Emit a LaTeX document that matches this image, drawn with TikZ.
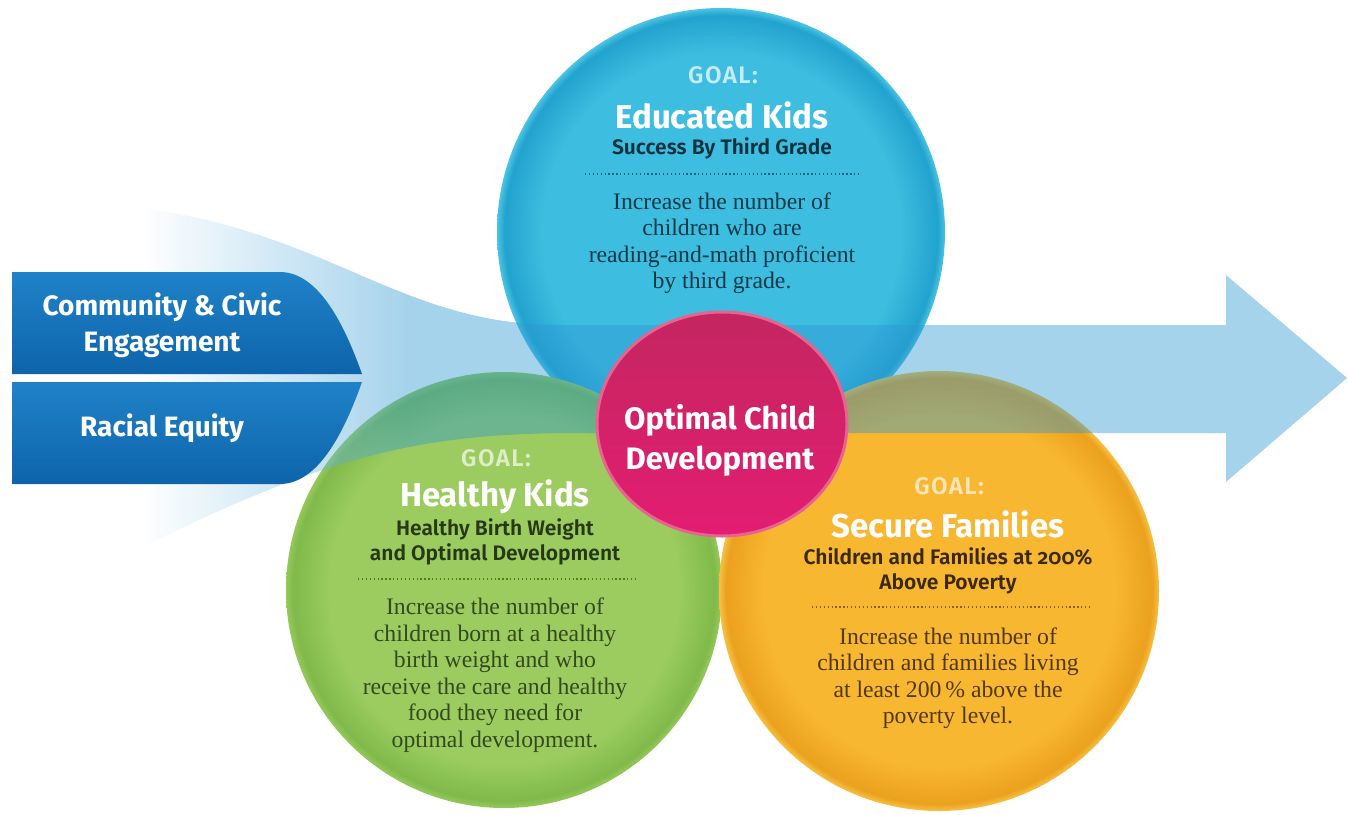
\documentclass[tikz,border=0pt]{standalone}
\usepackage{fontspec}
\setmainfont{Liberation Serif}
\setsansfont{Fira Sans}
\newfontfamily\subfont{Fira Sans SemiBold}[Numbers=OldStyle]
\newfontfamily\tagfont{Fira Sans SemiBold}[LetterSpace=6]
\usepackage{tikz}
\usepackage{xcolor}
\usetikzlibrary{shapes}
\usetikzlibrary{positioning, arrows.meta}

\definecolor{eduin}{HTML}{3DBDDF}
\definecolor{edurim}{HTML}{22A3CF}
\definecolor{eduedge}{HTML}{4CC4E4}
\definecolor{hlthin}{HTML}{9CCC5F}
\definecolor{hlthrim}{HTML}{80BA4B}
\definecolor{hlthedge}{HTML}{95C95A}
\definecolor{famin}{HTML}{F8B731}
\definecolor{famrim}{HTML}{EBA11E}
\definecolor{famedge}{HTML}{F7C043}
\definecolor{bandc}{HTML}{2B96D2}
\definecolor{tabtop}{HTML}{1F82C8}
\definecolor{tabbot}{HTML}{0E64AB}
\definecolor{pinktop}{HTML}{C42660}
\definecolor{pinkbot}{HTML}{E31D72}
\definecolor{pinkrim}{HTML}{E8648F}

\pgfdeclareradialshading{edushade}{\pgfpoint{0bp}{0bp}}{color(0bp)=(eduin); color(20bp)=(eduin); color(24.2bp)=(edurim); color(25bp)=(eduedge); color(50bp)=(eduedge)}
\pgfdeclareradialshading{hlthshade}{\pgfpoint{0bp}{0bp}}{color(0bp)=(hlthin); color(20bp)=(hlthin); color(24.2bp)=(hlthrim); color(25bp)=(hlthedge); color(50bp)=(hlthedge)}
\pgfdeclareradialshading{famshade}{\pgfpoint{0bp}{0bp}}{color(0bp)=(famin); color(20bp)=(famin); color(24.2bp)=(famrim); color(25bp)=(famedge); color(50bp)=(famedge)}
\pgfdeclarehorizontalshading{bandfade}{100bp}{color(0bp)=(white); color(25bp)=(white); color(36bp)=(bandc); color(100bp)=(bandc)}

\begin{document}
\begin{tikzpicture}[x=1pt, y=-1pt,
    goal/.style={circle, minimum size=#1, inner sep=0pt},
    goaltag/.style={font=\tagfont\fontsize{24}{24}\selectfont},
    goaltitle/.style={font=\sffamily\bfseries\fontsize{33}{33}\selectfont, text=white},
    goalsub/.style={font=\subfont\fontsize{21}{25}\selectfont, align=center},
    goalbody/.style={font=\fontsize{23.7}{26.5}\selectfont, align=center},
    dotrule/.style={line width=1.3pt, dash pattern=on 1.3pt off 2.6pt},
    tabtext/.style={font=\sffamily\bfseries\fontsize{28}{36}\selectfont, text=white, align=center}]

\useasboundingbox (0,0) rectangle (1348,814);

% the three goals
\node[goal=448, shading=edushade] (edu) at (721,232) {};
\node[goal=436, shading=hlthshade] (hlth) at (504,590) {};
\node[goal=440, shading=famshade] (fam) at (939,591) {};

% flow band
\shade[shading=bandfade, fill opacity=0.42] (140,208) .. controls (330,232) and (400,325) .. (560,325)
    -- (1226,325) -- (1226,275) -- (1347,378) -- (1226,482) -- (1226,433) -- (580,433)
    .. controls (420,433) and (330,455) .. (140,548) -- cycle;

% educated kids
\node[goaltag, text=eduin!30!white] (edugoal) at (723,75) {GOAL:};
\node[goaltitle] (edutitle) at (722,115) {Educated Kids};
\node[goalsub, text=edurim!30!black] (edusub) at (722,148) {Success By Third Grade};
\coordinate (edul) at (585,174);
\coordinate (edur) at (860,174);
\draw[dotrule, edurim!60!black] (edul) -- (edur);
\node[goalbody, text=edurim!35!black] (edubody) at (722,243) {Increase the number of\\children who are\\reading-and-math proficient\\by third grade.};

% healthy kids
\node[goaltag, text=hlthin!35!white] (hlthgoal) at (496,458) {GOAL:};
\node[goaltitle] (hlthtitle) at (495,497) {Healthy Kids};
\node[goalsub, text=hlthrim!30!black] (hlthsub) at (495,542) {Healthy Birth Weight\\and Optimal Development};
\coordinate (hlthl) at (358,579);
\coordinate (hlthr) at (636,579);
\draw[dotrule, hlthrim!65!black] (hlthl) -- (hlthr);
\node[goalbody, text=hlthrim!40!black] (hlthbody) at (495,675) {Increase the number of\\children born at a healthy\\birth weight and who\\receive the care and healthy\\food they need for\\optimal development.};

% secure families
\node[goaltag, text=famin!35!white] (famgoal) at (949,486) {GOAL:};
\node[goaltitle] (famtitle) at (948,524) {Secure Families};
\node[goalsub, text=famrim!25!black] (famsub) at (948,571) {Children and Families at 200\%\\Above Poverty};
\coordinate (faml) at (812,607);
\coordinate (famr) at (1090,607);
\draw[dotrule, famrim!60!black] (faml) -- (famr);
\node[goalbody, text=famrim!35!black] (fambody) at (948,678) {Increase the number of\\children and families living\\at least 200\,\% above the\\poverty level.};

% centre
\node[ellipse, minimum width=250, minimum height=224, inner sep=0pt, top color=pinktop, bottom color=pinkbot, draw=pinkrim, line width=3pt] (core) at (722,424) {};
\node[tabtext, font=\sffamily\bfseries\fontsize{31}{40}\selectfont] (coretext) at (720,440) {Optimal Child\\Development};

% inputs
\shade[top color=tabtop, bottom color=tabbot] (12,272) -- (280,272) .. controls (322,272) and (348,335) .. (362,374) -- (12,374) -- cycle;
\shade[top color=tabtop, bottom color=tabbot] (12,382) -- (362,382) .. controls (348,421) and (322,484) .. (280,484) -- (12,484) -- cycle;
\node[tabtext] (civic) at (162,325) {Community \& Civic\\Engagement};
\node[tabtext] (equity) at (162,428) {Racial Equity};
\end{tikzpicture}
\end{document}
